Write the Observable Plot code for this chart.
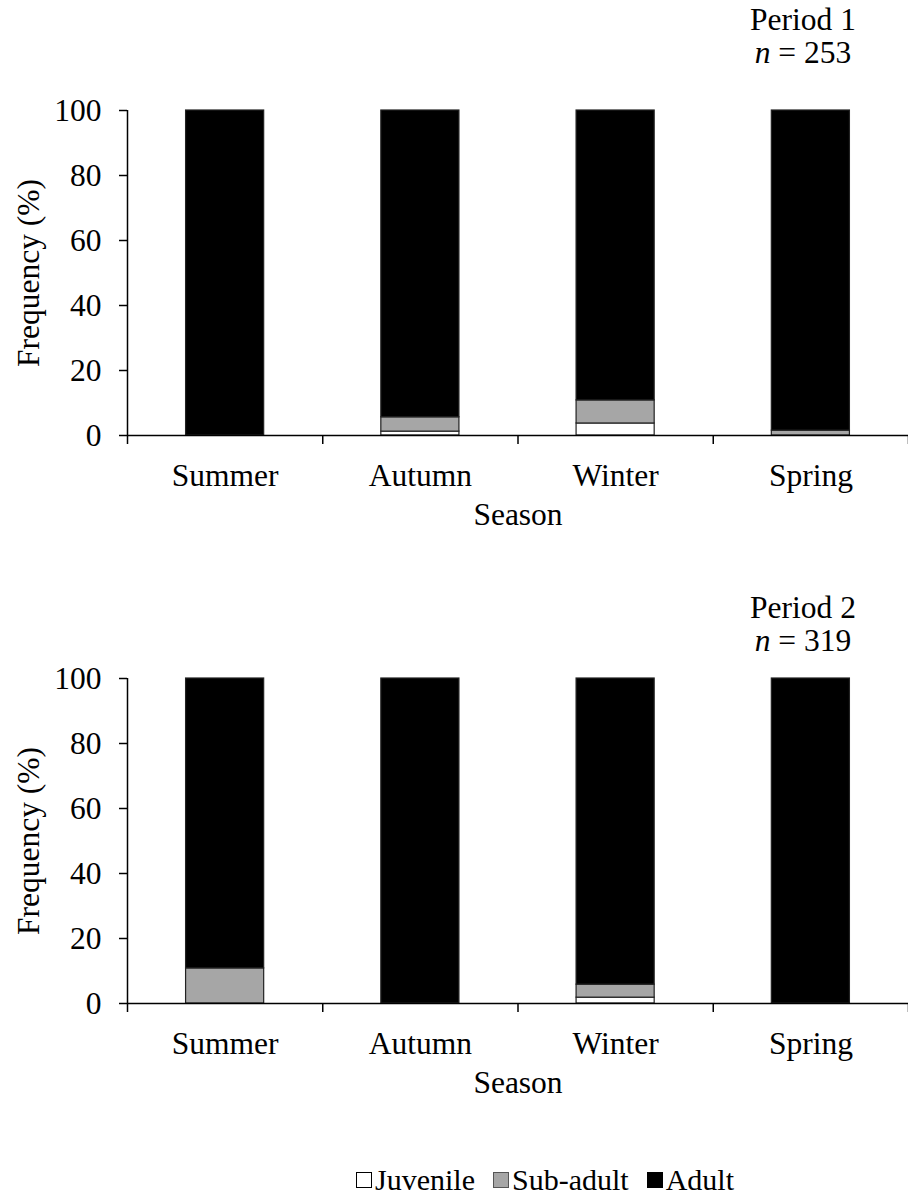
<!DOCTYPE html>
<html>
<head>
<meta charset="utf-8">
<script src="https://cdn.jsdelivr.net/npm/d3@7"></script>
<script src="https://cdn.jsdelivr.net/npm/@observablehq/plot@0.6"></script>
<style>
  html, body { margin: 0; padding: 0; background: #fff; }
  body { width: 908px; height: 1198px; position: relative; overflow: hidden;
         font-family: "Liberation Serif", "Times New Roman", serif; color: #000; }
  .panel { position: absolute; left: 0; }
  .hdr { position: absolute; left: 703px; width: 200px; text-align: center;
         font-size: 31.5px; line-height: 33px; }
  .legend { position: absolute; top: 1163px; left: 356px; display: flex; align-items: center;
            font-size: 30px; line-height: 34px; white-space: nowrap; }
  .item { display: flex; align-items: center; margin-right: 18px; }
  .sw { width: 16px; height: 16px; box-sizing: border-box; border: 1.5px solid #000; margin-right: 3px; }
</style>
</head>
<body>
<div id="p1" class="panel" style="top:0px"></div>
<div id="p2" class="panel" style="top:568px"></div>
<div class="hdr" style="top:3px">Period 1<br><i>n</i> = 253</div>
<div class="hdr" style="top:591px">Period 2<br><i>n</i> = 319</div>
<div class="legend" id="legend"></div>
<script>
const seasons = ["Summer", "Autumn", "Winter", "Spring"];
const stages = ["Juvenile", "Sub-adult", "Adult"];
const stageColors = ["#ffffff", "#a6a6a6", "#000000"];
const yTicks = [0, 20, 40, 60, 80, 100];

// Period 1 (n = 253), percent by season
const period1Juvenile = [0, 1.2, 3.7, 0];
const period1SubAdult = [0, 4.4, 7.1, 1.5];
const period1Adult    = [100, 94.4, 89.2, 98.5];

// Period 2 (n = 319)
const period2Juvenile = [0, 0, 1.8, 0];
const period2SubAdult = [10.8, 0, 4.0, 0];
const period2Adult    = [89.2, 100, 94.2, 100];

function makePanel(juv, sub, adl) {
  const series = [juv, sub, adl];
  const rows = [];
  seasons.forEach((s, i) => {
    series.forEach((arr, k) => {
      if (arr[i] > 0) rows.push({season: s, idx: i, stage: stages[k], value: arr[i]});
    });
  });
  const boundaries = d3.range(seasons.length + 1);
  return Plot.plot({
    width: 908, height: 540,
    marginLeft: 127, marginRight: 0, marginTop: 110, marginBottom: 105,
    style: {fontFamily: "'Liberation Serif', 'Times New Roman', serif", fontSize: "31.5px", color: "#000", background: "none", overflow: "visible"},
    x: {domain: [0, seasons.length]},
    y: {domain: [0, 100]},
    color: {domain: stages, range: stageColors},
    marks: [
      Plot.rectY(rows, {
        x1: d => d.idx + 0.3, x2: d => d.idx + 0.7,
        y: "value", fill: "stage", order: stages,
        stroke: "#222", strokeWidth: 1.2
      }),
      Plot.ruleY([0], {strokeWidth: 1.5}),
      Plot.ruleX([0], {y1: 0, y2: 100, strokeWidth: 1.5}),
      Plot.axisY({ticks: yTicks, tickSize: 8, tickPadding: 18, label: null, strokeWidth: 1.5}),
      Plot.axisX({ticks: boundaries, tickSize: 9, tickFormat: () => "", label: null, strokeWidth: 1.5}),
      Plot.text(seasons, {x: (d, i) => i + 0.5, frameAnchor: "bottom", dy: 40, lineAnchor: "middle"}),
      Plot.text(["Season"], {frameAnchor: "bottom", dy: 79, lineAnchor: "middle"}),
      Plot.text(["Frequency (%)"], {frameAnchor: "left", rotate: -90, dx: -99, textAnchor: "middle", lineAnchor: "middle"})
    ]
  });
}

document.getElementById("p1").appendChild(makePanel(period1Juvenile, period1SubAdult, period1Adult));
document.getElementById("p2").appendChild(makePanel(period2Juvenile, period2SubAdult, period2Adult));

const legend = document.getElementById("legend");
stages.forEach((s, k) => {
  const item = document.createElement("div");
  item.className = "item";
  const sw = document.createElement("span");
  sw.className = "sw";
  sw.style.background = stageColors[k];
  if (k === 1) sw.style.borderColor = "#555";
  item.appendChild(sw);
  item.appendChild(document.createTextNode(s));
  legend.appendChild(item);
});
</script>
</body>
</html>
